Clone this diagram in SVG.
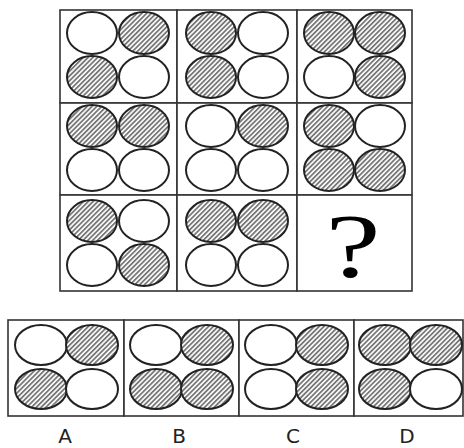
<svg xmlns="http://www.w3.org/2000/svg" width="464" height="448" viewBox="0 0 464 448">
<style>
.cell{fill:#fff;stroke:#333;stroke-width:1.6}
.w{fill:#fff;stroke:#222;stroke-width:2}
.h{fill:url(#hatch);stroke:#222;stroke-width:2}
.lbl{font-family:"DejaVu Sans","Liberation Sans",sans-serif;font-size:20px;fill:#222;text-anchor:middle}
.q{font-family:"Liberation Serif",serif;font-size:92px;fill:#000;text-anchor:middle}
</style>
<defs>
<pattern id="hatch" patternUnits="userSpaceOnUse" width="3.4" height="3.4" patternTransform="rotate(45)">
<rect width="3.4" height="3.4" fill="#fff"/>
<rect width="1.8" height="3.4" fill="#777"/>
</pattern>
</defs>
<rect width="464" height="448" fill="#fff"/>
<g id="grid">
<rect class="cell" x="60" y="10" width="117" height="93"/>
<rect class="cell" x="177" y="10" width="120" height="93"/>
<rect class="cell" x="297" y="10" width="115" height="93"/>
<rect class="cell" x="60" y="103" width="117" height="92"/>
<rect class="cell" x="177" y="103" width="120" height="92"/>
<rect class="cell" x="297" y="103" width="115" height="92"/>
<rect class="cell" x="60" y="195" width="117" height="96"/>
<rect class="cell" x="177" y="195" width="120" height="96"/>
<rect class="cell" x="297" y="195" width="115" height="96"/>
</g>
<g id="r1c1"><ellipse class="w" cx="92" cy="33" rx="25" ry="21"/><ellipse class="h" cx="144" cy="33" rx="25" ry="21"/><ellipse class="h" cx="92" cy="77" rx="25" ry="21"/><ellipse class="w" cx="144" cy="77" rx="25" ry="21"/></g>
<g id="r1c2"><ellipse class="h" cx="211" cy="33" rx="25" ry="21"/><ellipse class="w" cx="263" cy="33" rx="25" ry="21"/><ellipse class="h" cx="211" cy="77" rx="25" ry="21"/><ellipse class="w" cx="263" cy="77" rx="25" ry="21"/></g>
<g id="r1c3"><ellipse class="h" cx="329" cy="33" rx="25" ry="21"/><ellipse class="h" cx="380" cy="33" rx="25" ry="21"/><ellipse class="w" cx="329" cy="77" rx="25" ry="21"/><ellipse class="h" cx="380" cy="77" rx="25" ry="21"/></g>
<g id="r2c1"><ellipse class="h" cx="92" cy="126" rx="25" ry="21"/><ellipse class="h" cx="144" cy="126" rx="25" ry="21"/><ellipse class="w" cx="92" cy="170" rx="25" ry="21"/><ellipse class="w" cx="144" cy="170" rx="25" ry="21"/></g>
<g id="r2c2"><ellipse class="w" cx="211" cy="126" rx="25" ry="21"/><ellipse class="h" cx="263" cy="126" rx="25" ry="21"/><ellipse class="w" cx="211" cy="170" rx="25" ry="21"/><ellipse class="w" cx="263" cy="170" rx="25" ry="21"/></g>
<g id="r2c3"><ellipse class="h" cx="329" cy="126" rx="25" ry="21"/><ellipse class="w" cx="380" cy="126" rx="25" ry="21"/><ellipse class="h" cx="329" cy="170" rx="25" ry="21"/><ellipse class="h" cx="380" cy="170" rx="25" ry="21"/></g>
<g id="r3c1"><ellipse class="h" cx="92" cy="221" rx="25" ry="21"/><ellipse class="w" cx="144" cy="221" rx="25" ry="21"/><ellipse class="w" cx="92" cy="265" rx="25" ry="21"/><ellipse class="h" cx="144" cy="265" rx="25" ry="21"/></g>
<g id="r3c2"><ellipse class="h" cx="211" cy="221" rx="25" ry="21"/><ellipse class="h" cx="263" cy="221" rx="25" ry="21"/><ellipse class="w" cx="211" cy="265" rx="25" ry="21"/><ellipse class="w" cx="263" cy="265" rx="25" ry="21"/></g>
<g id="r3c3"><text class="q" transform="translate(353 277) scale(1.35 1)" x="0" y="0">?</text></g>
<g id="answers">
<rect class="cell" x="8" y="320" width="116" height="96"/>
<rect class="cell" x="124" y="320" width="115" height="96"/>
<rect class="cell" x="239" y="320" width="115" height="96"/>
<rect class="cell" x="354" y="320" width="109" height="96"/>
</g>
<g id="optA"><ellipse class="w" cx="41" cy="345" rx="26" ry="20"/><ellipse class="h" cx="92" cy="345" rx="26" ry="20"/><ellipse class="h" cx="41" cy="389" rx="26" ry="20"/><ellipse class="w" cx="92" cy="389" rx="26" ry="20"/><text class="lbl" x="65" y="443">A</text></g>
<g id="optB"><ellipse class="w" cx="156" cy="345" rx="26" ry="20"/><ellipse class="h" cx="207" cy="345" rx="26" ry="20"/><ellipse class="h" cx="156" cy="389" rx="26" ry="20"/><ellipse class="h" cx="207" cy="389" rx="26" ry="20"/><text class="lbl" x="179" y="443">B</text></g>
<g id="optC"><ellipse class="w" cx="271" cy="345" rx="26" ry="20"/><ellipse class="h" cx="322" cy="345" rx="26" ry="20"/><ellipse class="w" cx="271" cy="389" rx="26" ry="20"/><ellipse class="h" cx="322" cy="389" rx="26" ry="20"/><text class="lbl" x="293" y="443">C</text></g>
<g id="optD"><ellipse class="h" cx="385" cy="345" rx="26" ry="20"/><ellipse class="h" cx="436" cy="345" rx="26" ry="20"/><ellipse class="h" cx="385" cy="389" rx="26" ry="20"/><ellipse class="w" cx="436" cy="389" rx="26" ry="20"/><text class="lbl" x="407" y="443">D</text></g>
</svg>
